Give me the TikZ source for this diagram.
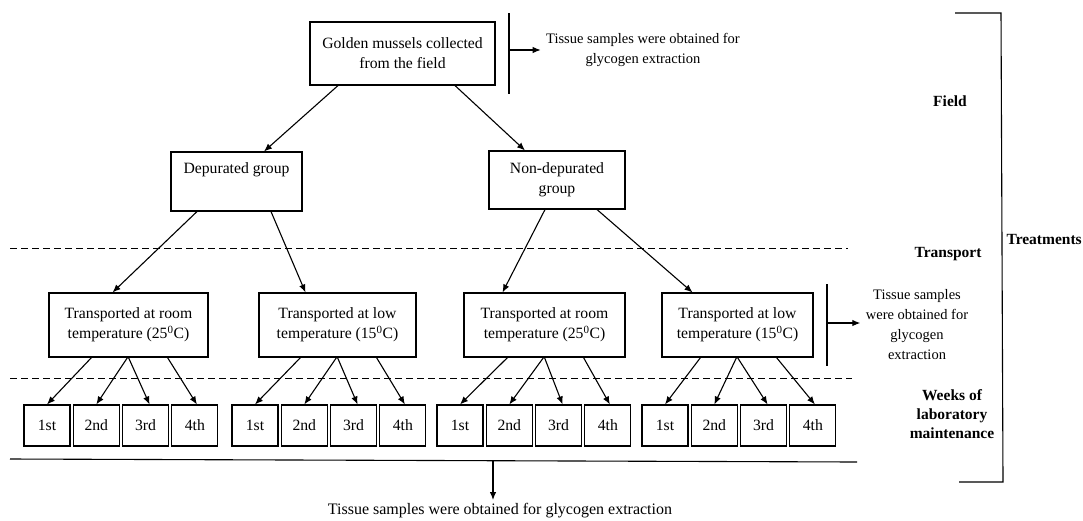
\documentclass[tikz,border=0pt]{standalone}
\usepackage{fontspec}
\setmainfont{Liberation Serif}
\usetikzlibrary{arrows.meta}
\newcommand{\newStage}[4]{\node[stage,#3](#1) at (#4) {#2};}
\newcommand{\newFlow}[4]{\draw[->] ([xshift=#2pt]#1.south) -- ([xshift=#4pt]#3.north);}

\begin{document}
\begin{tikzpicture}[
    % Pixel units, y going down
    x=1pt, y=-1pt,
    % Default arrow tip
    >={Latex[length=8pt,width=6.5pt]},
    % Edge stroke thickness
    line width=1.1pt,
    font=\fontsize{15.7}{20}\selectfont,
    stage/.style={draw, align=center, inner sep=0pt},
    week/.style={stage, minimum width=46pt, minimum height=41pt},
    side/.style={align=center, inner sep=5pt, font=\fontsize{14.5}{20}\selectfont},
    level/.style={align=center, inner sep=0pt, font=\fontsize{15.5}{19}\selectfont\bfseries},
    divider/.style={line width=1pt, dash pattern=on 7pt off 4pt}
    ]

    \useasboundingbox (0,0) rectangle (1083,520);

    \newStage{mussels}{Golden mussels collected\\from the field}{minimum width=185pt,minimum height=63pt}{402.5,53.5}
    \newStage{dep}{Depurated group\\\strut}{minimum width=131pt,minimum height=59pt}{236.5,181.5}
    \newStage{nondep}{Non-depurated\\group}{minimum width=136pt,minimum height=58pt}{557,180}

    % transport boxes
    \foreach \n/\x/\w/\k/\t in {t1/128.5/159/room/25, t2/337.5/157/low/15,
                                t3/544.5/161/room/25, t4/737.5/151/low/15}
      \newStage{\n}{Transported at \k\\temperature (\t\textsuperscript{0}C)}{minimum width=\w pt,minimum height=64pt}{\x,325};

    % weeks of maintenance
    \foreach \g/\x in {1/24, 2/232, 3/437, 4/642}
      \foreach \k/\lab in {1/1st, 2/2nd, 3/3rd, 4/4th}
        \node[week] (w\g\k) at ({\x+23+49.3*(\k-1)},425.5) {\lab};

    \newFlow{mussels}{-64.5}{dep}{27.5}
    \newFlow{mussels}{52.5}{nondep}{-32}
    \newFlow{dep}{-39.5}{t1}{-16}
    \newFlow{dep}{34.5}{t2}{-32}
    \newFlow{nondep}{-12}{t3}{-42}
    \newFlow{nondep}{40}{t4}{-45}
    \foreach \g in {1,...,4} {
      \newFlow{t\g}{-37}{w\g1}{0}
      \newFlow{t\g}{-1}{w\g2}{0}
      \newFlow{t\g}{0}{w\g3}{4}
      \newFlow{t\g}{39}{w\g4}{2}
    }

    % separators
    \draw[divider] (10,248) -- (848,248);
    \draw[divider] (10,378) -- (852,378);
    \draw (10,459) -- (857,462);

    % sampling notes
    \node[side] (note1) at (643,50) {Tissue samples were obtained for\\glycogen extraction};
    \coordinate (s1top) at (509,13);
    \coordinate (s1bot) at (509,94);
    \coordinate (s1mid) at (509,50);
    \draw (s1top) -- (s1bot);
    \draw[->] (s1mid) -- (note1.west);

    \node[side] (note2) at (917,325) {Tissue samples\\were obtained for\\glycogen\\extraction};
    \coordinate (s2top) at (827,284);
    \coordinate (s2bot) at (827,366);
    \coordinate (s2mid) at (827,323);
    \draw (s2top) -- (s2bot);
    \draw[->] (s2mid) -- (note2.west |- s2mid);

    \node[anchor=base, inner sep=0pt, font=\fontsize{16}{20}\selectfont] (note3) at (500,514)
      {Tissue samples were obtained for glycogen extraction};
    \coordinate (split) at (493,461);
    \coordinate (drop) at (493,500);
    \draw[->] (split) -- (drop);

    % stage labels
    \node[level] (field) at (950,101) {Field};
    \node[level] (transport) at (948,254) {Transport};
    \node[level] (weeks) at (952,414) {Weeks of\\laboratory\\maintenance};
    \node[level, anchor=west] (treat) at (1006,239) {Treatments};
    \draw (955,13) -- (1001,13) -- (1003,482) -- (959,482);
  \end{tikzpicture}
\end{document}
